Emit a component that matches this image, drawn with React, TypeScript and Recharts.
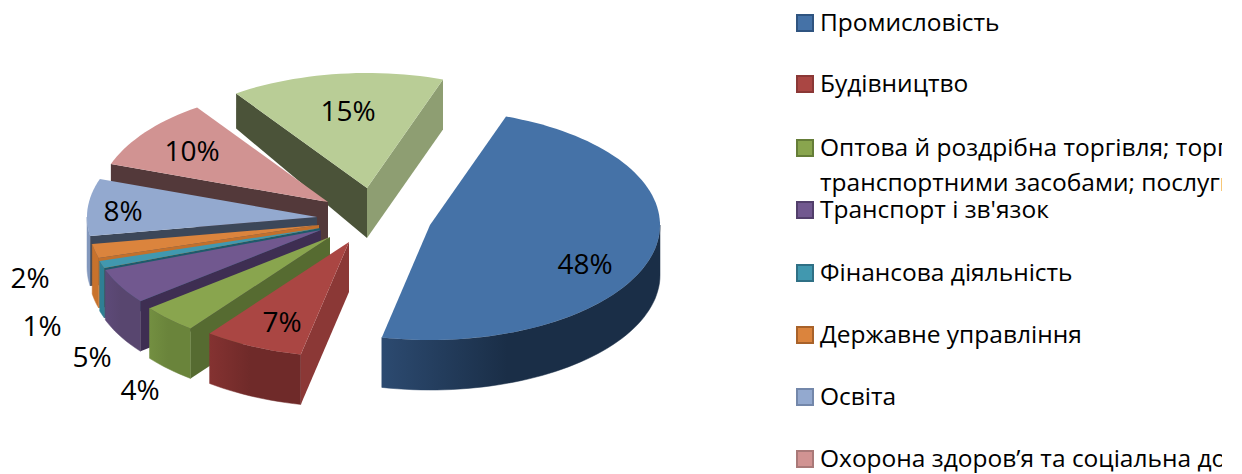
import React from 'react';
import { PieChart, Pie, Legend } from 'recharts';

const categories = [
  'Промисловість',
  'Будівництво',
  'Оптова й роздрібна торгівля; торгівля',
  'Транспорт і зв\'язок',
  'Фінансова діяльність',
  'Державне управління',
  'Освіта',
  'Охорона здоров’я та соціальна допомога',
  'Інші послуги',
];
const shares = [48, 7, 4, 5, 1, 2, 8, 10, 15];
const legendSecondLine = 'транспортними засобами; послуги';
const legendCount = 8;

const topColors = ['#4572A7', '#AA4643', '#89A54E', '#71588F', '#4198AF', '#DB843D', '#93A9CF', '#D19392', '#B9CD96'];
const edgeColors = ['#2F5480', '#8B3836', '#566B31', '#3E2E52', '#1E5B6B', '#C2702C', '#3C4759', '#53393A', '#4B5339'];
const endEdgeColors = ['#2F5480', '#8B3836', '#566B31', '#3E2E52', '#1E5B6B', '#C2702C', '#3C4759', '#53393A', '#8E9E72'];
const rimLeft = ['#2C4A70', '#843231', '#738F41', '#5D4A78', '#2F7F94', '#C8722C', '#8398BD', '#B88180', '#8E9E72'];
const rimRight = ['#1A2E47', '#6F2A29', '#6A843B', '#58466F', '#2F7F94', '#C8722C', '#8398BD', '#B88180', '#8E9E72'];
const legendBorders = ['#2F5480', '#8B3836', '#657D38', '#523F6B', '#2F7085', '#A8622A', '#7387AA', '#A97978'];

// visual explosion of each slice from the pie centre, and its label spot, in pixels
const explodeX = [105, 24, 5, -4, -5, -6, -8, 3, 42];
const explodeY = [0, 17, 12, 5, 3, 0, -8, -23, -37];
const labelX = [260, -43, -185, -233, -283, -295, -202, -133, 23];
const labelY = [38, 96, 164, 131, 100, 52, -15, -75, -115];

const CX = 325;
const CY = 225;
const RADIUS = 230;
const TILT = 0.5;
const MAX_DEPTH = 50;
const LEGEND_ROWS = [23, 84, 148, 210, 273, 335, 397, 459];

const rows = categories.map((name, i) => ({ name, value: shares[i], index: i }));
const drawOrder = [...rows].reverse();

const depthAt = (y: number) => Math.min(MAX_DEPTH, Math.max(35, 35 + ((y - 96) * 15) / 92));
const toD = (pts: number[][]) => 'M' + pts.map((p) => p[0].toFixed(1) + ' ' + p[1].toFixed(1)).join('L') + 'Z';

function Slice(props: any) {
  const i = props.payload?.index ?? props.index;
  const ax = props.cx + explodeX[i];
  const ay = props.cy + explodeY[i];
  const r = props.outerRadius;
  let ts = 90 - props.endAngle;
  const span = props.endAngle - props.startAngle;
  ts = ((ts % 360) + 360) % 360;
  const te = ts + span;
  const at = (t: number) => {
    const a = (t * Math.PI) / 180;
    return [ax + r * Math.sin(a), ay - r * TILT * Math.cos(a)];
  };
  const arc = (a: number, b: number) => {
    const n = Math.max(2, Math.ceil(Math.abs(b - a) / 2));
    const out: number[][] = [];
    for (let k = 0; k <= n; k++) out.push(at(a + ((b - a) * k) / n));
    return out;
  };
  const drop = (p: number[]) => [p[0], p[1] + depthAt(p[1])];
  const apex = [ax, ay];
  const wall = (p: number[], full = false) =>
    toD([apex, p, full ? [p[0], p[1] + MAX_DEPTH] : drop(p), drop(apex)]);
  const sinS = Math.sin((ts * Math.PI) / 180);
  const sinE = Math.sin((te * Math.PI) / 180);
  const rimA = Math.max(ts, 90);
  const rimB = Math.min(te, 270);
  const rim = rimB > rimA ? arc(rimA, rimB) : null;
  const id = 'rim' + i;
  return (
    <g>
      <defs>
        <linearGradient id={id} x1="0" x2="1" y1="0" y2="0">
          <stop offset="0" stopColor={rimLeft[i]} />
          <stop offset="0.45" stopColor={rimRight[i]} />
          <stop offset="1" stopColor={rimRight[i]} />
        </linearGradient>
      </defs>
      {rim && <path d={toD([...rim, ...rim.map(drop).reverse()])} fill={`url(#${id})`} stroke={`url(#${id})`} strokeWidth={0.5} />}
      {sinS < 0 && <path d={wall(at(ts))} fill={edgeColors[i]} />}
      {sinE > 0 && <path d={wall(at(te), true)} fill={endEdgeColors[i]} />}
      <path d={toD([apex, ...arc(ts, te)])} fill={topColors[i]} />
    </g>
  );
}

function SliceLabel(props: any) {
  const i = props.payload?.index ?? props.index;
  return (
    <text x={props.cx + labelX[i]} y={props.cy + labelY[i]} textAnchor="middle" dominantBaseline="central"
      fontFamily="'Open Sans', sans-serif" fontSize={28} fill="#000">
      {shares[i]}%
    </text>
  );
}

const textStyle: React.CSSProperties = {
  position: 'absolute', left: 24, fontFamily: "'Open Sans', sans-serif", fontSize: 24.5, lineHeight: '30px',
  color: '#000', whiteSpace: 'nowrap',
};

function LegendBox() {
  return (
    <div style={{ position: 'relative', width: 426, height: 474, overflow: 'hidden' }}>
      {LEGEND_ROWS.slice(0, legendCount).map((y, i) => (
        <React.Fragment key={i}>
          <div style={{ position: 'absolute', left: 0, top: y - 9, width: 14, height: 14, background: topColors[i], border: `2px solid ${legendBorders[i]}` }} />
          <div style={{ ...textStyle, top: y - 16 }}>{categories[i]}</div>
          {i === 2 && <div style={{ ...textStyle, top: y + 19 }}>{legendSecondLine}</div>}
        </React.Fragment>
      ))}
    </div>
  );
}

export default function App() {
  return (
    <div style={{ position: 'fixed', left: 0, top: 0, width: 1242, height: 474, background: '#fff', overflow: 'hidden' }}>
      <PieChart width={1242} height={474} margin={{ top: 0, right: 0, bottom: 0, left: 0 }}>
        <Pie
          data={drawOrder}
          dataKey="value"
          nameKey="name"
          cx={CX}
          cy={CY}
          outerRadius={RADIUS}
          startAngle={70.7}
          endAngle={430.7}
          stroke="none"
          isAnimationActive={false}
          shape={Slice}
          label={SliceLabel}
          labelLine={false}
        />
        <Legend content={LegendBox} wrapperStyle={{ left: 796, top: 0, width: 426, height: 474, bottom: 'auto' }} />
      </PieChart>
    </div>
  );
}
